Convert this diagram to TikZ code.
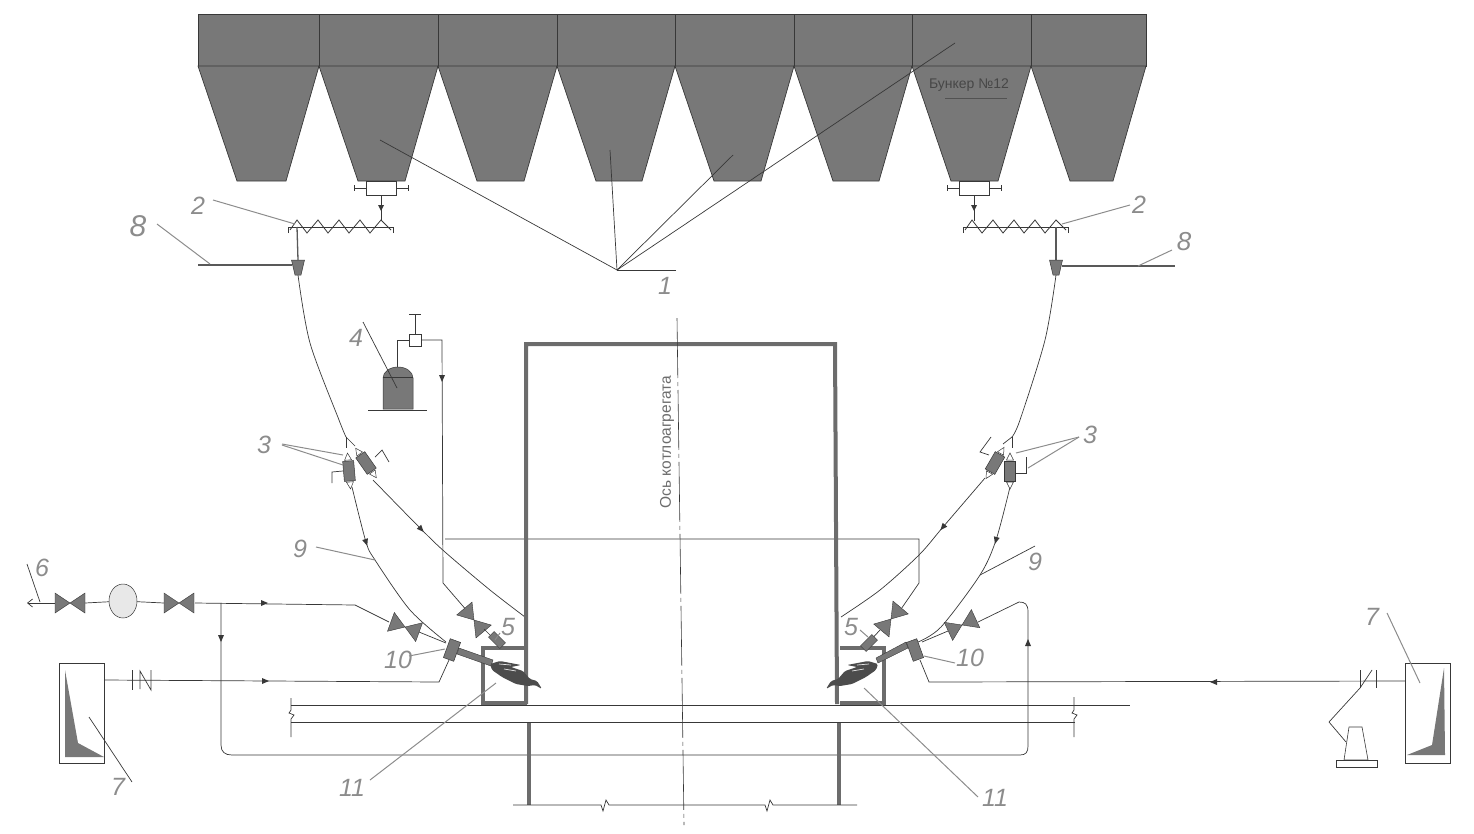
\documentclass[tikz,border=0pt]{standalone}
\usepackage{fontspec}
\setmainfont{Liberation Sans}
\usepackage{tikz}
\usetikzlibrary{arrows.meta}
\usetikzlibrary{shapes.geometric}
\definecolor{hopgray}{gray}{0.47}
\definecolor{labgray}{gray}{0.55}
\definecolor{inkline}{gray}{0.22}
\tikzset{
    pipe/.style={draw=inkline, line width=0.7pt},
    wallline/.style={draw=gray!85!black, line width=4pt},
    leaderdark/.style={draw=inkline, line width=0.7pt},
    leadergray/.style={draw=labgray, line width=1pt},
    numlab/.style={text=labgray, font=\itshape\fontsize{25}{25}\selectfont, inner sep=1pt},
    valve/.pic={
        \filldraw[fill=hopgray, draw=inkline, line width=0.4pt] (-15,-10) -- (15,10) -- (15,-10) -- (-15,10) -- cycle;
    },
    flowtip/.pic={
        \fill[inkline] (4,0) -- (-3,3) -- (-3,-3) -- cycle;
    },
    flame/.pic={
        \fill[gray!60!black, rounded corners=1.5pt] (0,2) -- (10,-1) -- (31,3) -- (21,5) -- (33,9) -- (40,17) -- (47,19) -- (52,27)
            -- (45,23) -- (38,24) -- (26,22) -- (12,15) -- (2,8) -- cycle;
        \draw[gray!20, line width=0.7pt] (9,2) -- (21,3);
        \draw[gray!20, line width=0.7pt] (14,7) -- (26,9);
    },
    burnerbox/.pic={
        \filldraw[fill=hopgray, draw=inkline, line width=0.5pt] (-5.5,-10) rectangle (5.5,10);
    },
    flowmeter/.pic={
        \filldraw[fill=hopgray, draw=inkline, line width=0.5pt] (-10,-5.5) rectangle (10,5.5);
        \draw[inkline, fill=white, line width=0.5pt] (-11,-3.5) -- (-11,3.5) -- (-18,0) -- cycle;
        \draw[inkline, fill=white, line width=0.5pt] (11,-3.5) -- (11,3.5) -- (18,0) -- cycle;
    },
    screwfeed/.pic={
        \draw[inkline, line width=0.7pt] (0,0) -- (105,0);
        \draw[inkline, line width=0.7pt] (0,6) -- (0,0);
        \draw[inkline, line width=0.7pt] (105,6) -- (105,0);
        \draw[inkline, line width=0.8pt] (2,3) -- (9,-7) -- (19,6) -- (30,-7) -- (40,6) -- (51,-7) -- (61,6) -- (72,-7) -- (82,6) -- (93,-7) -- (103,3);
    },
    feedbox/.pic={
        \draw[inkline, line width=0.6pt, fill=white] (-15,0) rectangle (15,14);
        \draw[inkline, line width=0.6pt] (-15,7) -- (-27,7);
        \draw[inkline, line width=0.6pt] (-27,4) -- (-27,10);
        \draw[inkline, line width=0.6pt] (15,7) -- (27,7);
        \draw[inkline, line width=0.6pt] (27,4) -- (27,10);
        \draw[inkline, line width=0.6pt] (0,14) -- (0,40);
        \fill[inkline] (-3,24) -- (3,24) -- (0,30) -- cycle;
    },
    funnelcup/.pic={
        \filldraw[fill=hopgray, draw=inkline, line width=0.5pt] (-6.5,0) -- (6.5,0) -- (3,15) -- (-3,15) -- cycle;
    }
}
\begin{document}
\begin{tikzpicture}[x=1pt, y=-1pt]
    \useasboundingbox (0,0) rectangle (1474,833);
    % bunkers
    \foreach \xa/\xb in {198/319,319/438,438/557,557/675,675/794,794/912,912/1031,1031/1146}{
        \filldraw[fill=hopgray, draw=inkline, line width=0.7pt] (\xa,14) rectangle (\xb,66);
        \filldraw[fill=hopgray, draw=inkline, line width=0.7pt] (\xa,66) -- (\xb,66) -- ({\xb-33},181) -- ({\xa+39},181) -- cycle;
    }
    \node[text=black!72, font=\fontsize{14}{14}\selectfont, inner sep=0pt] (bunkerlabel) at (969,85) {Бункер №12};
    \draw[black!68, line width=0.6pt] (945,98) -- (1007,98);
    % leaders of the bunkers
    \coordinate (fanroot) at (617,270);
    \draw[leaderdark] (676,270) -- (fanroot);
    \draw[leaderdark] (fanroot) -- (380,140);
    \draw[leaderdark] (fanroot) -- (610,150);
    \draw[leaderdark] (fanroot) -- (733,155);
    \draw[leaderdark] (fanroot) -- (955,43);
    \node[numlab] (numone) at (665,286) {1};
    % feeders, screws and funnels
    \pic at (381,181) {feedbox};
    \pic at (974,181) {feedbox};
    \pic at (288,227) {screwfeed};
    \pic at (963,227) {screwfeed};
    \draw[gray!70!black, line width=1.3pt] (297,227) -- (298,260);
    \draw[gray!70!black, line width=1.3pt] (1056,227) -- (1056,260);
    \pic at (298,260) {funnelcup};
    \pic at (1056,260) {funnelcup};
    \draw[gray!70!black, line width=1.1pt] (198,265) -- (292,265);
    \draw[gray!70!black, line width=1.1pt] (1062,266) -- (1175,266);
    \node[numlab] (numtwoL) at (198,206) {2};
    \node[numlab] (numtwoR) at (1139,205) {2};
    \node[numlab, font=\itshape\fontsize{30}{30}\selectfont] (numeightL) at (138,226) {8};
    \node[numlab, font=\itshape\fontsize{26}{26}\selectfont] (numeightR) at (1184,242) {8};
    \draw[leadergray] (213,200) -- (295,224);
    \draw[leadergray] (1130,205) -- (1062,224);
    \draw[leadergray] (157,224) -- (210,264);
    \draw[leadergray] (1138,266) -- (1172,250);
    % coal pipes
    \draw[pipe] plot[smooth] coordinates {(298,275) (310,343) (339,420) (346,437)};
    \draw[pipe] plot[smooth] coordinates {(1056,275) (1045,340) (1020,420) (1012,437)};
    \draw[pipe] (346,437) -- (346,448);
    \draw[pipe] (346,437) -- (355,446);
    \draw[pipe] (1012,437) -- (1012,448);
    \draw[pipe] (1012,437) -- (1003,444);
    \draw[pipe] plot[smooth] coordinates {(352,487) (366,542) (375,560) (410,610) (446,642)};
    \draw[pipe] plot[smooth] coordinates {(373,480) (421,529) (445,552) (490,590) (525,617)};
    \draw[pipe] plot[smooth] coordinates {(1010,487) (996,540) (980,575) (941,627) (918,642)};
    \draw[pipe] plot[smooth] coordinates {(985,478) (943,527) (919,555) (880,590) (841,617)};
    \pic[rotate=-48] at (421,529) {flowtip};
    \pic[rotate=-72] at (366,542) {flowtip};
    \pic[rotate=-130] at (943,527) {flowtip};
    \pic[rotate=-105] at (996,540) {flowtip};
    % meters
    \pic[rotate=-85] at (349,471) {flowmeter};
    \pic[rotate=-55] at (366,463) {flowmeter};
    \pic[rotate=-90] at (1010,471) {flowmeter};
    \pic[rotate=-120] at (995,463) {flowmeter};
    \draw[pipe] (343,471) -- (332,472) -- (332,483);
    \draw[pipe] (375,457) -- (382,450) -- (389,462);
    \draw[pipe] (1016,473) -- (1026,473) -- (1026,457);
    \draw[pipe] (989,455) -- (980,452) -- (991,437);
    \node[numlab] (numthreeL) at (264,445) {3};
    \node[numlab] (numthreeR) at (1090,435) {3};
    \draw[leadergray] (282,444) -- (343,455);
    \draw[leadergray] (282,445) -- (343,465);
    \draw[leadergray] (1079,437) -- (1016,453);
    \draw[leadergray] (1079,437) -- (1028,468);
    % tank and gas line
    \filldraw[fill=hopgray, draw=inkline, line width=0.5pt] (383,409) -- (383,378) arc[start angle=180, end angle=360, x radius=15, y radius=11] -- (413,409) -- cycle;
    \draw[inkline, line width=0.6pt] (383,377) -- (413,377);
    \draw[pipe, line width=1pt] (368,410) -- (427,410);
    \node[draw=inkline, fill=white, line width=0.6pt, minimum size=12pt, inner sep=0pt] (gasbox) at (415,340) {};
    \coordinate (gastop) at (415,314);
    \draw[pipe] (gasbox) -- (gastop);
    \draw[pipe] (409,314) -- (421,314);
    \draw[pipe] (397,367) -- (397,340) -- (gasbox);
    \draw[pipe] (gasbox) -- (442,340) -- (443,583) -- (468,612);
    \pic[rotate=-90] at (442,378) {flowtip};
    \node[numlab] (numfour) at (356,338) {4};
    \draw[leaderdark] (363,322) -- (397,388);
    % gas line on the right and the hood
    \draw[pipe] (445,539) -- (919,539) -- (919,583) -- (899,612);
    \pic[rotate=-50] at (474,620) {valve};
    \pic[rotate=50] at (891,619) {valve};
    \draw[pipe] (484,629) -- (495,640);
    \draw[pipe] (880,630) -- (868,643);
    % air line
    \node[draw=inkline, fill=gray!18, ellipse, line width=0.5pt, minimum width=28pt, minimum height=34pt, inner sep=0pt] (fanwheel) at (123,601) {};
    \coordinate (airend) at (27,603);
    \draw[pipe, -{Straight Barb[length=5pt, width=8pt]}] (55,603) -- (airend);
    \draw[pipe] (85,603) -- (fanwheel);
    \draw[pipe] (fanwheel) -- (164,603);
    \pic at (70,603) {valve};
    \pic at (179,603) {valve};
    \draw[pipe] (195,603) -- (355,605) -- (389,622);
    \pic[rotate=-20] at (405,627) {valve};
    \draw[pipe] (419,632) -- (446,643);
    \pic at (264,603) {flowtip};
    \draw[pipe] (221,603) -- (221,745) .. controls (221,752) and (225,755) .. (232,755) -- (1020,755) .. controls (1026,755) and (1028,752) .. (1028,746) -- (1028,612) .. controls (1028,604) and (1025,602) .. (1019,602) -- (978,622);
    \pic[rotate=-90] at (221,638) {flowtip};
    \pic[rotate=90] at (1028,643) {flowtip};
    \pic[rotate=25] at (962,625) {valve};
    \draw[pipe] (948,631) -- (922,642);
    % igniter lines and recorders
    \draw[pipe] (104,680) -- (439,682) -- (449,660);
    \pic at (265,681) {flowtip};
    \draw[pipe] (132,670) -- (132,690);
    \draw[pipe] (140,689) -- (140,671) -- (151,690) -- (151,670);
    \draw[pipe] (1405,681) -- (929,682) -- (920,660);
    \pic[rotate=180] at (1214,682) {flowtip};
    \draw[pipe] (1360,670) -- (1360,688);
    \draw[pipe] (1376,670) -- (1376,688);
    \draw[pipe] (1372,670) -- (1360,688) -- (1329,722) -- (1346,742);
    \draw[draw=inkline, line width=0.6pt] (1349,727) -- (1362,727) -- (1368,760) -- (1344,760) -- cycle;
    \draw[draw=inkline, line width=0.6pt] (1336,760) rectangle (1377,767);
    \draw[draw=inkline, line width=0.7pt] (59,663) rectangle (104,763);
    \fill[hopgray] (65,670) -- (78,743) -- (104,757) -- (65,757) -- cycle;
    \draw[draw=inkline, line width=0.7pt] (1405,663) rectangle (1450,763);
    \fill[hopgray] (1444,668) -- (1445,755) -- (1407,755) -- (1432,745) -- cycle;
    \node[numlab] (numsevenL) at (118,787) {7};
    \node[numlab] (numsevenR) at (1372,617) {7};
    \draw[leaderdark] (89,717) -- (132,782);
    \draw[leadergray] (1387,613) -- (1420,683);
    \node[numlab] (numsix) at (42,568) {6};
    \draw[leaderdark] (27,564) -- (40,602);
    \node[numlab] (numnineL) at (300,549) {9};
    \node[numlab] (numnineR) at (1035,562) {9};
    \draw[leadergray] (316,547) -- (375,560);
    \draw[leaderdark] (1035,546) -- (980,575);
    % boiler walls and axis
    \draw[wallline] (526,704) -- (526,344) -- (835,344) -- (837,704);
    \draw[wallline] (529,722) -- (529,805);
    \draw[wallline] (839,722) -- (839,805);
    \draw[pipe] (513,805) -- (601,805) -- (603,811) -- (606,800) -- (609,805) -- (765,805) -- (767,811) -- (770,800) -- (773,805) -- (857,805);
    \draw[pipe, line width=0.6pt, dash pattern=on 60pt off 4pt on 4pt off 4pt] (677,318) -- (684,825);
    \node[text=gray!85!black, font=\fontsize{15.5}{15.5}\selectfont, rotate=90, inner sep=0pt] (axislabel) at (667,442) {Ось котлоагрегата};
    % platform
    \draw[pipe] (291,705) -- (1130,705);
    \draw[pipe] (291,722) -- (1075,722);
    \draw[pipe] (291,698) -- (291,710) -- (289,713) -- (294,715) -- (291,719) -- (291,737);
    \draw[pipe] (1074,697) -- (1074,710) -- (1072,713) -- (1077,715) -- (1074,719) -- (1074,737);
    % furnace chambers and burners
    \draw[draw=gray!85!black, line width=3.5pt] (527,648) -- (483,648) -- (483,703) -- (527,703);
    \draw[draw=gray!85!black, line width=3.5pt] (840,648) -- (884,648) -- (884,703) -- (840,703);
    \filldraw[fill=hopgray, draw=inkline, line width=0.4pt] (459,648) -- (493,660) -- (491,666) -- (457,654) -- cycle;
    \filldraw[fill=hopgray, draw=inkline, line width=0.4pt] (908,648) -- (878,663) -- (876,658) -- (906,642) -- cycle;
    \pic at (490,662) {flame};
    \pic[xscale=-1] at (878,662) {flame};
    \pic[rotate=-20] at (452,650) {burnerbox};
    \pic[rotate=20] at (915,650) {burnerbox};
    \filldraw[fill=hopgray, draw=inkline, line width=0.4pt, rotate around={-45:(497,640)}] (489,636) rectangle (505,644);
    \filldraw[fill=hopgray, draw=inkline, line width=0.4pt, rotate around={45:(869,643)}] (861,639) rectangle (877,647);
    \node[numlab] (numfiveL) at (508,627) {5};
    \node[numlab] (numfiveR) at (851,627) {5};
    \draw[leadergray] (500,633) -- (495,640);
    \draw[leadergray] (860,630) -- (868,637);
    \node[numlab] (numtenL) at (398,660) {10};
    \node[numlab] (numtenR) at (970,658) {10};
    \draw[leadergray] (409,656) -- (445,649);
    \draw[leadergray] (924,656) -- (955,663);
    \node[numlab] (numelevenL) at (352,788) {11};
    \node[numlab] (numelevenR) at (995,798) {11};
    \draw[leadergray] (370,780) -- (496,683);
    \draw[leadergray] (978,797) -- (864,688);
\end{tikzpicture}
\end{document}
